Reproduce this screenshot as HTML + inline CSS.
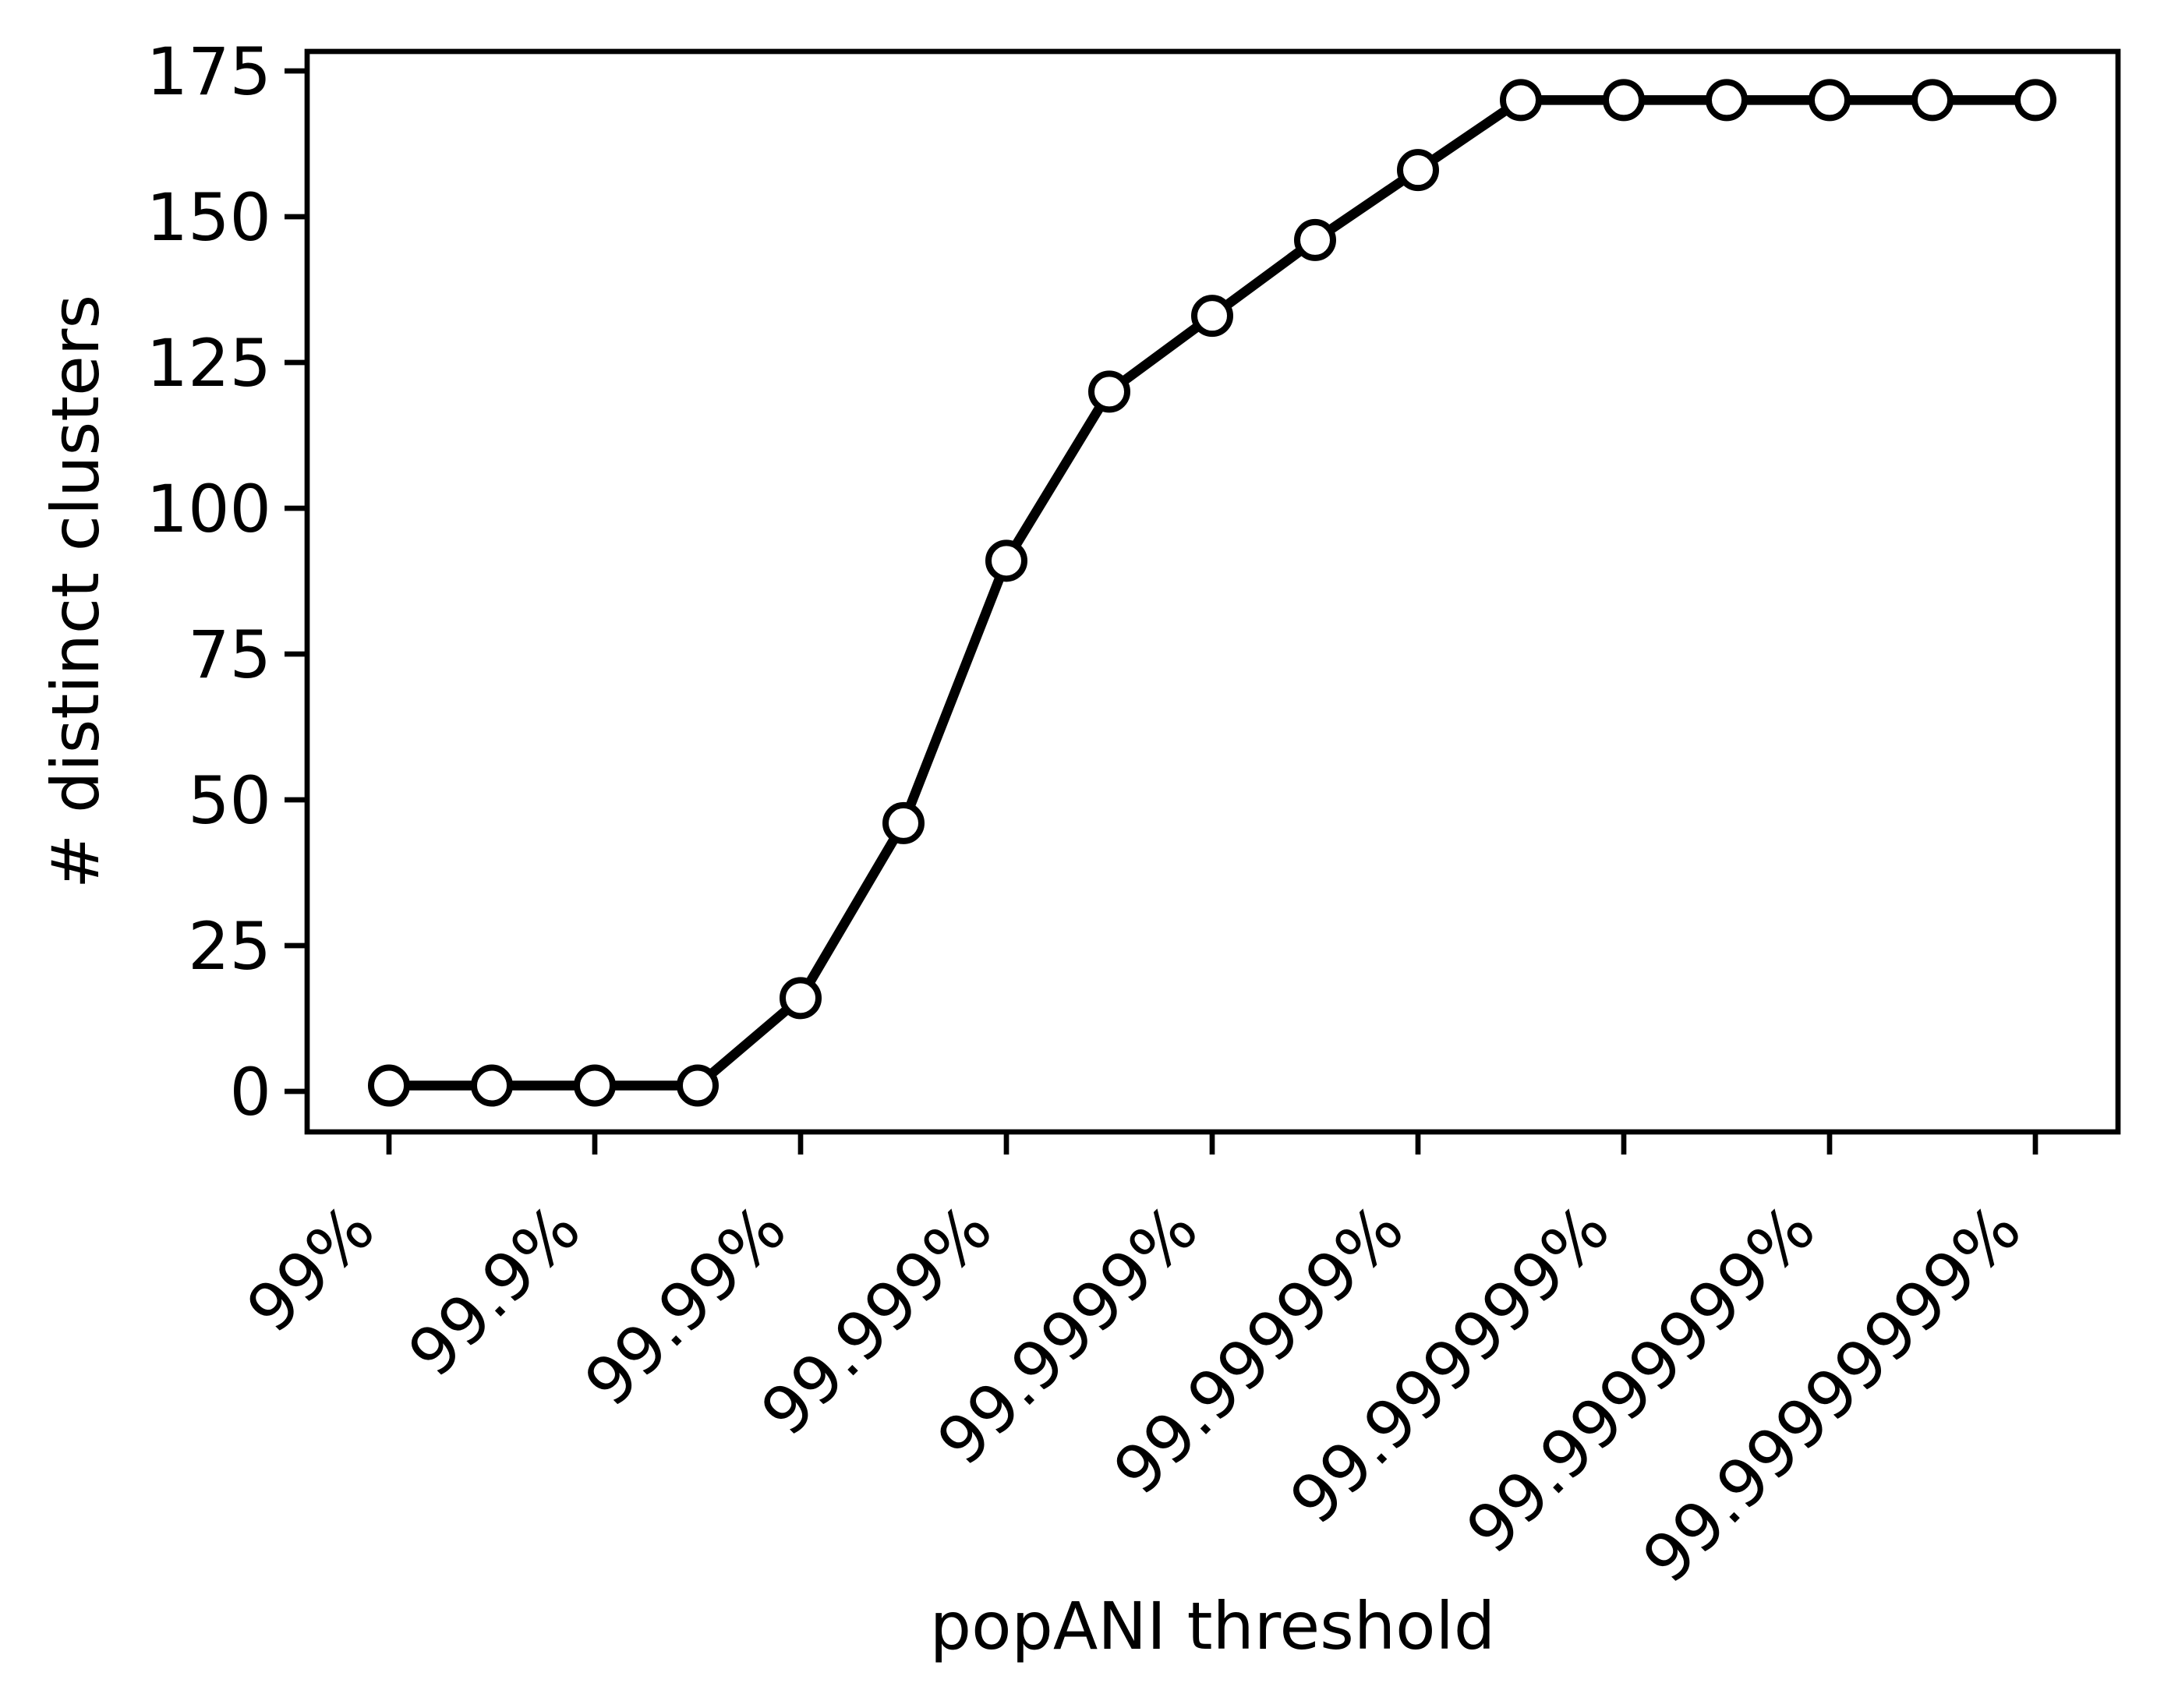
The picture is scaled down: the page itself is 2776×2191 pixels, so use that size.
<!DOCTYPE html>
<html><head><meta charset="utf-8"><style>
html,body{margin:0;padding:0;background:#fff;}
svg{display:block;font-family:"DejaVu Sans","Liberation Sans",sans-serif;}
</style></head><body>
<svg id="chart" width="2776" height="2191" viewBox="0 0 2776 2191">
<rect x="0" y="0" width="2776" height="2191" fill="#fff"/>
<g id="plot"></g>
</svg>
<script>
const categories = ["99%","","99.9%","","99.99%","","99.999%","","99.9999%","","99.99999%","","99.999999%","","99.9999999%","","99.99999999%"];
const clusterCounts = [1,1,1,1,16,46,91,120,133,146,158,170,170,170,170,170,170];
const yTicks = [0,25,50,75,100,125,150,175];

const NS = "http://www.w3.org/2000/svg";
const g = document.getElementById('plot');
const L = 394, R = 2717, T = 66, B = 1452;
const x0 = 499, xStep = 132;
const FS = 84;
function xScale(i){ return x0 + i * xStep; }
function yScale(v){ return 1400 - v * (1400 - 91) / 175; }
function mk(tag, attrs, parent){
  const e = document.createElementNS(NS, tag);
  for (const k in attrs) e.setAttribute(k, attrs[k]);
  (parent || g).appendChild(e);
  return e;
}

yTicks.forEach(v => {
  const y = yScale(v);
  const t = mk('line', {x1: L - 29, x2: L, y1: y, y2: y, stroke: '#000', 'stroke-width': 6.7});
  
  
  const lb = mk('text', {x: L - 46, y: y + 30, 'text-anchor': 'end', 'font-size': FS, fill: '#000'});
  lb.textContent = v;
  
  
});

categories.forEach((c, i) => {
  if (c === '') return;
  const x = xScale(i);
  const t = mk('line', {x1: x, x2: x, y1: B, y2: B + 29, stroke: '#000', 'stroke-width': 6.7});
  
  
  const ax = x - 14, ay = B + 130;
  const lb = mk('text', {x: ax, y: ay, 'text-anchor': 'end', 'font-size': FS, fill: '#000', transform: 'rotate(-45 ' + ax + ' ' + ay + ')'});
  lb.textContent = c;
  
  
});

const pts = clusterCounts.map((v, i) => xScale(i) + ',' + yScale(v)).join(' ');
const line = mk('polyline', {points: pts, fill: 'none', stroke: '#000', 'stroke-width': 12.5, 'stroke-linejoin': 'round'});



clusterCounts.forEach((v, i) => {
  const c = mk('circle', {cx: xScale(i), cy: yScale(v), r: 23, fill: '#fff', stroke: '#000', 'stroke-width': 8});
  
  
});

const fr = mk('rect', {x: L, y: T, width: R - L, height: B - T, fill: 'none', stroke: '#000', 'stroke-width': 6.7});



const xt = mk('text', {x: (L + R) / 2, y: 2115, 'text-anchor': 'middle', 'font-size': FS, fill: '#000'});
xt.textContent = 'popANI threshold';


const yt = mk('text', {x: 0, y: 0, 'text-anchor': 'middle', 'font-size': FS, fill: '#000', transform: 'translate(126 759) rotate(-90)'});
yt.textContent = '# distinct clusters';


</script>
</body></html>
